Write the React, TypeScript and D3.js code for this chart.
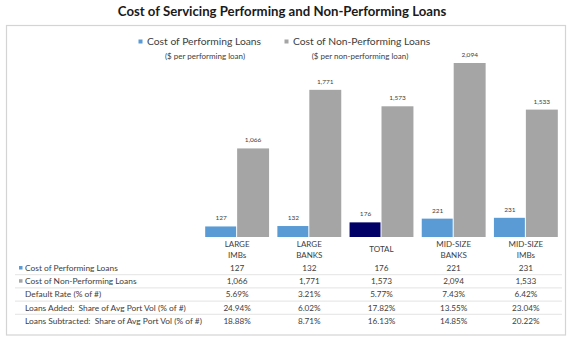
import React from "react";
import * as d3 from "d3";

const categories = ["LARGE IMBs", "LARGE BANKS", "TOTAL", "MID-SIZE BANKS", "MID-SIZE IMBs"];
const categoryLines = [["LARGE", "IMBs"], ["LARGE", "BANKS"], ["TOTAL"], ["MID-SIZE", "BANKS"], ["MID-SIZE", "IMBs"]];
const performing = [127, 132, 176, 221, 231];
const nonPerforming = [1066, 1771, 1573, 2094, 1533];
const defaultRate = ["5.69%", "3.21%", "5.77%", "7.43%", "6.42%"];
const loansAdded = ["24.94%", "6.02%", "17.82%", "13.55%", "23.04%"];
const loansSubtracted = ["18.88%", "8.71%", "16.13%", "14.85%", "20.22%"];
const seriesNames = ["Cost of Performing Loans", "Cost of Non-Performing Loans"];
const seriesUnits = ["($ per performing loan)", "($ per non-performing loan)"];
const rowLabels = [
  "Cost of Performing Loans",
  "Cost of Non-Performing Loans",
  "Default Rate (% of #)",
  "Loans Added:  Share of Avg Port Vol (% of #)",
  "Loans Subtracted:  Share of Avg Port Vol (% of #)",
];

const BLUE = "#5B9BD5";
const NAVY = "#000066";
const GRAY = "#A5A5A5";
const TXT = "#404040";
const FONT = "Lato, 'Open Sans', sans-serif";

export default function App() {
  const W = 570, H = 350;
  const x = d3.scaleBand<string>().domain(categories).range([201, 562]).paddingInner(0.115).paddingOuter(0.058);
  const inner = d3.scaleBand<string>().domain(["p", "n"]).range([0, x.bandwidth()]).padding(0);
  const y = d3.scaleLinear().domain([0, 2094]).range([237, 63]);
  const fmt = d3.format(",");

  const tableRows: string[][] = [
    performing.map((v) => fmt(v)),
    nonPerforming.map((v) => fmt(v)),
    defaultRate,
    loansAdded,
    loansSubtracted,
  ];
  const rowY = (i: number) => 271 + i * 13.2;

  return (
    <svg width={W} height={H} style={{ position: "absolute", left: 0, top: 0, background: "#fff" }} fontFamily={FONT}>
      <text x={282} y={16} textAnchor="middle" fontSize={13.2} fontWeight={700} fill="#1a1a1a">
        Cost of Servicing Performing and Non-Performing Loans
      </text>
      <rect x={6.5} y={25.5} width={559} height={309.5} fill="#fff" stroke="#d4d4d4" strokeWidth={1.2} />

      {/* legend */}
      <rect x={138.5} y={39.5} width={4} height={4} fill={BLUE} />
      <text x={147} y={45} fontSize={10.3} fill={TXT}>{seriesNames[0]}</text>
      <text x={205} y={58.5} fontSize={8} textAnchor="middle" fill={TXT}>{seriesUnits[0]}</text>
      <rect x={284.5} y={39.5} width={4} height={4} fill={GRAY} />
      <text x={293} y={45} fontSize={10.3} fill={TXT}>{seriesNames[1]}</text>
      <text x={360} y={58.5} fontSize={8} textAnchor="middle" fill={TXT}>{seriesUnits[1]}</text>

      {/* bars */}
      {categories.map((c, i) => {
        const x0 = x(c)!;
        const bw = inner.bandwidth();
        return (
          <g key={c}>
            <rect x={x0 + inner("p")!} y={y(performing[i])} width={bw - 1} height={y(0) - y(performing[i])} fill={c === "TOTAL" ? NAVY : BLUE} />
            <rect x={x0 + inner("n")!} y={y(nonPerforming[i])} width={bw} height={y(0) - y(nonPerforming[i])} fill={GRAY} />
            <text x={x0 + inner("p")! + bw / 2} y={y(performing[i]) - 6} fontSize={6.5} textAnchor="middle" fill={TXT}>{fmt(performing[i])}</text>
            <text x={x0 + inner("n")! + bw / 2} y={y(nonPerforming[i]) - 6} fontSize={6.5} textAnchor="middle" fill={TXT}>{fmt(nonPerforming[i])}</text>
            {categoryLines[i].length === 1 ? (
              <text x={x0 + x.bandwidth() / 2} y={252} fontSize={8} textAnchor="middle" fill={TXT}>{categoryLines[i][0]}</text>
            ) : (
              categoryLines[i].map((l, k) => (
                <text key={k} x={x0 + x.bandwidth() / 2} y={247 + k * 11} fontSize={8} textAnchor="middle" fill={TXT}>{l}</text>
              ))
            )}
          </g>
        );
      })}

      {/* table */}
      {[0, 1, 2, 3].map((k) => (
        <line key={k} x1={15} x2={562} y1={rowY(k) + 3.7} y2={rowY(k) + 3.7} stroke="#dcdcdc" strokeWidth={0.8} />
      ))}
      {rowLabels.map((lab, r) => (
        <g key={lab}>
          {r < 2 && <rect x={19} y={rowY(r) - 5} width={3.5} height={3.5} fill={r === 0 ? BLUE : GRAY} />}
          <text x={25} y={rowY(r)} fontSize={8.4} fill={TXT} style={{ whiteSpace: "pre" }}>{lab}</text>
          {tableRows[r].map((v, i) => (
            <text key={i} x={x(categories[i])! + x.bandwidth() / 2} y={rowY(r)} fontSize={8.2} textAnchor="middle" fill={TXT}>{v}</text>
          ))}
        </g>
      ))}
    </svg>
  );
}
